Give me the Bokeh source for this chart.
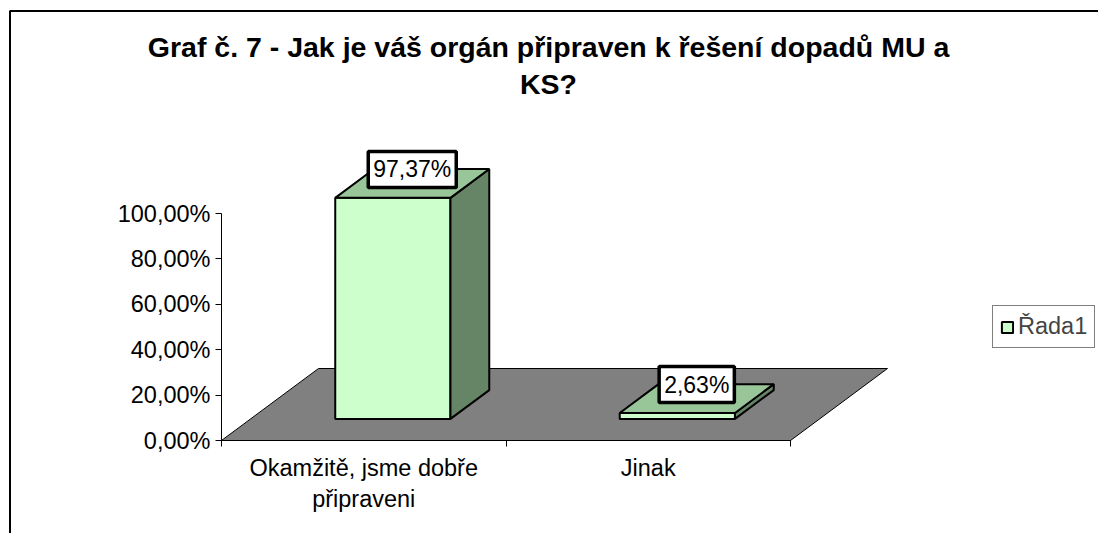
from bokeh.plotting import figure
from bokeh.models import Range1d, LinearAxis, FixedTicker, Label, Legend, LegendItem
from bokeh.embed import file_html
from bokeh.resources import INLINE

# ---- data ----
title_lines = ["Graf č. 7 - Jak je váš orgán připraven k řešení dopadů MU a", "KS?"]
categories = ["Okamžitě, jsme dobře\npřipraveni", "Jinak"]
values = [97.37, 2.63]
y_ticks = [0, 20, 40, 60, 80, 100]
y_tick_labels = ["0,00%", "20,00%", "40,00%", "60,00%", "80,00%", "100,00%"]
series_name = "Řada1"

# ---- layout helpers (figure pixels -> data) ----
W, H = 1098, 533
X0, Y0 = 221, 440          # figure pixel of data origin (from top-left)
SX, SY = 284.5, 2.27       # px per category unit, px per percent


def dx(px):
    return (px - X0) / SX


def dy(py):
    return (Y0 - py) / SY


KX, KY = 97 / SX, 72 / SY  # oblique depth offset (full depth) in data units


def proj(x, d, v):
    return x + d * KX, v + d * KY


p = figure(width=W, height=H, x_range=Range1d(dx(0), dx(W)), y_range=Range1d(dy(H), dy(0)),
           output_backend="svg", toolbar_location=None, min_border=0,
           x_axis_type=None, y_axis_type=None)
p.outline_line_color = None
p.background_fill_color = "white"
p.border_fill_color = "white"

FONT = "Liberation Sans"

# chart border (left and top visible)
p.line(x=[dx(9.5), dx(9.5), dx(W + 20)], y=[dy(H + 20), dy(10.5), dy(10.5)],
       line_color="black", line_width=2)

n = len(categories)
# floor
fl = [proj(0, 0, 0), proj(n, 0, 0), proj(n, 1, 0), proj(0, 1, 0)]
p.patch(x=[a for a, b in fl], y=[b for a, b in fl], fill_color="#808080",
        line_color="black", line_width=1)

# bars
BW = 0.2025
D0, D1 = 0.3, 0.7
fx, fy, tx, ty, sx, sy = [], [], [], [], [], []
for i, v in enumerate(values):
    c = i + 0.5
    x0, x1 = c - BW, c + BW
    front = [proj(x0, D0, 0), proj(x1, D0, 0), proj(x1, D0, v), proj(x0, D0, v)]
    top = [proj(x0, D0, v), proj(x1, D0, v), proj(x1, D1, v), proj(x0, D1, v)]
    side = [proj(x1, D0, 0), proj(x1, D1, 0), proj(x1, D1, v), proj(x1, D0, v)]
    fx.append([a for a, b in front]); fy.append([b for a, b in front])
    tx.append([a for a, b in top]); ty.append([b for a, b in top])
    sx.append([a for a, b in side]); sy.append([b for a, b in side])

fronts = p.patches(xs=fx, ys=fy, fill_color="#CCFFCC", line_color="black", line_width=2)
p.patches(xs=sx, ys=sy, fill_color="#668566", line_color="black", line_width=2)
p.patches(xs=tx, ys=ty, fill_color="#99C699", line_color="black", line_width=2)

# axes
yaxis = LinearAxis(fixed_location=0, bounds=(0, 100), ticker=FixedTicker(ticks=y_ticks),
                   major_label_overrides=dict(zip(y_ticks, y_tick_labels)))
yaxis.major_tick_out = 6
yaxis.major_tick_in = 0
yaxis.major_label_standoff = 5
p.add_layout(yaxis, "left")

cat_pos = [i + 0.5 for i in range(n)]
xaxis = LinearAxis(fixed_location=0, bounds=(0, n),
                   ticker=FixedTicker(ticks=cat_pos, minor_ticks=list(range(n + 1))),
                   major_label_overrides=dict(zip(cat_pos, categories)))
xaxis.major_tick_out = 0
xaxis.major_tick_in = 0
xaxis.minor_tick_out = 6
xaxis.minor_tick_in = 0
xaxis.major_label_standoff = 8
xaxis.major_label_text_line_height = 1.2
p.add_layout(xaxis, "below")

for ax in (xaxis, yaxis):
    ax.axis_line_color = "black"
    ax.axis_line_width = 1
    ax.major_tick_line_color = "black" if ax is yaxis else None
    ax.minor_tick_line_color = "black" if ax is xaxis else None
    ax.major_label_text_font = FONT
    ax.major_label_text_font_size = "23.5px"
    ax.major_label_text_color = "black"

# title
title_y = [46, 83]
for line, ty_ in zip(title_lines, title_y):
    p.add_layout(Label(x=dx(548), y=dy(ty_), text=line, text_align="center",
                       text_baseline="middle", text_font=FONT, text_font_style="bold",
                       text_font_size="28.5px", text_color="black"))

# data labels
for i, v in enumerate(values):
    lx, ly = proj(i + 0.5, 0.5, v)
    txt = f"{v:.2f}".replace(".", ",") + "%"
    p.add_layout(Label(x=lx, y=ly, y_offset=14, text=txt, text_align="center",
                       text_baseline="middle", text_font=FONT, text_font_size="23px",
                       text_color="black", background_fill_color="white",
                       border_line_color="black", border_line_width=3.5, padding=5))

# legend
legend = Legend(items=[LegendItem(label=series_name, renderers=[fronts])],
                location=(992, 533 - 348))
legend.label_text_font = FONT
legend.label_text_font_size = "23.5px"
legend.glyph_width = 14
legend.glyph_height = 14
legend.padding = 7
legend.margin = 0
legend.label_standoff = 4
legend.border_line_color = "black"
legend.border_line_width = 1
legend.background_fill_alpha = 1
p.add_layout(legend)

open("out.html", "w").write(file_html(p, INLINE))
